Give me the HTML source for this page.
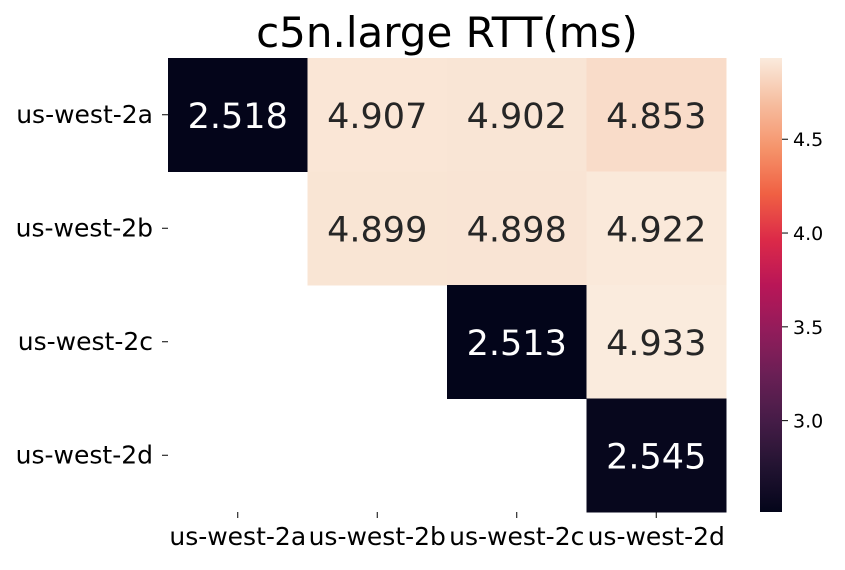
<!DOCTYPE html>
<html><head><meta charset="utf-8">
<style>
body{margin:0;background:#fff;font-family:"Liberation Sans","DejaVu Sans",sans-serif;}
svg text{font-family:"DejaVu Sans","Liberation Sans",sans-serif;}
</style></head>
<body>
<svg id="chart" width="845" height="565" viewBox="0 0 845 565">
<text x="447" y="47" text-anchor="middle" font-size="42" fill="#000">c5n.large RTT(ms)</text>
<g id="cells"></g>
<g id="xaxis"></g>
<g id="yaxis"></g>
<defs><linearGradient id="cbgrad" x1="0" y1="1" x2="0" y2="0"></linearGradient></defs>
<rect x="760" y="58" width="22" height="454" fill="url(#cbgrad)"/>
<g id="cbticks"></g>
</svg>
<script>
const zones = ["us-west-2a","us-west-2b","us-west-2c","us-west-2d"];
const rowA = [2.518, 4.907, 4.902, 4.853];
const rowB = [null, 4.899, 4.898, 4.922];
const rowC = [null, null, 2.513, 4.933];
const rowD = [null, null, null, 2.545];
const cbTicks = [3.0, 3.5, 4.0, 4.5];
const rows = [rowA,rowB,rowC,rowD];
const vmin = 2.513, vmax = 4.933;
const X0=168, X1=726, Y0=58, Y1=512;
const cw=(X1-X0)/zones.length, ch=(Y1-Y0)/zones.length;
const stops=[[3,5,26],[34,19,49],[69,28,71],[105,31,85],[146,28,91],[185,22,87],[220,42,72],[240,96,67],[245,147,106],[246,189,159],[250,235,221]];
function cmap(t){t=Math.max(0,Math.min(1,t));const p=t*(stops.length-1);const i=Math.min(Math.floor(p),stops.length-2);const f=p-i;
 const c=stops[i].map((v,k)=>Math.round(v+(stops[i+1][k]-v)*f));return `rgb(${c[0]},${c[1]},${c[2]})`;}
const NS="http://www.w3.org/2000/svg";
function mk(tag,attrs,parent){const e=document.createElementNS(NS,tag);for(const k in attrs)e.setAttribute(k,attrs[k]);parent.appendChild(e);return e;}
const xs=i=>X0+i*cw, ys=j=>Y0+j*ch;
const gC=document.getElementById('cells');
rows.forEach((row,j)=>row.forEach((v,i)=>{
 if(v===null)return;
 const t=(v-vmin)/(vmax-vmin);
 const r=mk('rect',{x:xs(i),y:ys(j),width:cw+0.5,height:ch+0.5,fill:cmap(t)},gC);
 
 
 const tx=mk('text',{x:xs(i)+cw/2,y:ys(j)+ch/2+13,'text-anchor':'middle','font-size':'35',fill:t<0.5?'#fff':'#262626'},gC);
 tx.textContent=v.toFixed(3);
 
 
}));
const gX=document.getElementById('xaxis'), gY=document.getElementById('yaxis');
zones.forEach((z,i)=>{
 mk('line',{x1:xs(i)+cw/2,x2:xs(i)+cw/2,y1:Y1,y2:Y1+6,stroke:'#000','stroke-width':1},gX);
 const t=mk('text',{x:xs(i)+cw/2,y:Y1+33,'text-anchor':'middle','font-size':'25',fill:'#000'},gX);
 t.textContent=z;
 
 
 mk('line',{x1:X0-6,x2:X0,y1:ys(i)+ch/2,y2:ys(i)+ch/2,stroke:'#000','stroke-width':1},gY);
 const u=mk('text',{x:X0-15,y:ys(i)+ch/2+8,'text-anchor':'end','font-size':'25',fill:'#000'},gY);
 u.textContent=z;
 
 
});
const grad=document.getElementById('cbgrad');
for(let k=0;k<=20;k++){mk('stop',{offset:k/20,'stop-color':cmap(k/20)},grad);}
const gT=document.getElementById('cbticks');
cbTicks.forEach(v=>{
 const y=Y1-(v-vmin)/(vmax-vmin)*(Y1-Y0);
 mk('line',{x1:782,x2:788,y1:y,y2:y,stroke:'#000','stroke-width':1},gT);
 const t=mk('text',{x:793,y:y+7,'font-size':'19',fill:'#000'},gT);
 t.textContent=v.toFixed(1);
 
 
});
</script>
</body></html>
